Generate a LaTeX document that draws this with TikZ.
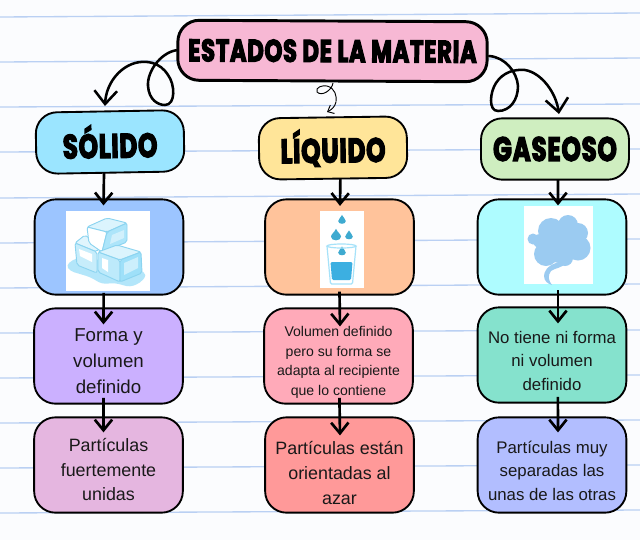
\documentclass[tikz,border=0pt]{standalone}
\usepackage{fontspec}
\usetikzlibrary{arrows.meta,calc}
\setmainfont{Liberation Sans}
\newfontfamily\headfont[BoldFeatures={FakeBold=3.6},FakeStretch=0.72,LetterSpace=2.5]{Poppins}
\newcommand{\down}[1]{\rule{0pt}{\dimexpr 10pt+2\dimexpr #1\relax\relax}}
\definecolor{ruled}{RGB}{186,208,243}
\definecolor{paper}{RGB}{251,252,254}
\definecolor{dropblue}{RGB}{62,170,208}
\definecolor{glassblue}{RGB}{60,175,225}
\definecolor{iceline}{RGB}{140,212,240}
\definecolor{cloudblue}{RGB}{155,203,241}
\tikzset{
 x=0.75pt,y=-0.75pt,
 box/.style={draw=black,line width=1.4pt,rounded corners=16pt,inner sep=0pt,align=center,text=black},
 hbox/.style={box,minimum width=111pt,minimum height=46pt},
 cbox/.style={box,minimum width=111.5pt,minimum height=71.5pt,text=black!90},
 heading/.style={font=\headfont\bfseries\fontsize{25.5pt}{26pt}\selectfont},
 tip/.style={-{Straight Barb[length=8pt,width=13pt,line width=2pt]}},
 link/.style={tip,line width=2pt},
 curl/.style={-{Straight Barb[length=10pt,width=17pt,line width=1.9pt]},line width=1.9pt,line cap=round},
 rule/.style={ruled,line width=1pt},
 photo/.style={fill=white,draw=none,inner sep=0pt},
 iceface/.style={draw=iceline,line width=0.7pt,rounded corners=1.5pt},
}
\begin{document}
\begin{tikzpicture}
\useasboundingbox (0,0) rectangle (640,540);
\fill[paper] (0,0) rectangle (640,540);
% ruled lines
\foreach \yy/\yr in {17/13,62/58,107/104,152/149,198/194,243/239,288/284,333/330,378/375,423/420,468/465,513/510}
  \draw[rule] (0,\yy) -- (640,\yr);

% title
\node[box,fill={rgb,255:red,247;green,184;blue,212},minimum width=232pt,minimum height=45pt,line width=2.2pt,rotate=-0.3,font=\headfont\bfseries\fontsize{23.5pt}{26pt}\selectfont] (title) at (332.5,51)
  {ESTADOS DE LA MATERIA};

% headers
\node[hbox,heading,fill={rgb,255:red,155;green,229;blue,255},rotate=1] (solido) at (110,142) {\raisebox{1pt}{SÓLIDO}};
\node[hbox,heading,fill={rgb,255:red,255;green,229;blue,153},rotate=0.8] (liquido) at (333,148) {\raisebox{1pt}{LÍQUIDO}};
\node[hbox,heading,fill={rgb,255:red,207;green,238;blue,192}] (gaseoso) at (555,149) {GASEOSO};

% row 2
\node[cbox,fill={rgb,255:red,156;green,197;blue,255}] (ice) at (109,247) {};
\node[cbox,fill={rgb,255:red,255;green,195;blue,155}] (water) at (339.5,247) {};
\node[cbox,fill={rgb,255:red,174;green,252;blue,255}] (gas) at (552,247) {};

% row 3
\node[cbox,fill={rgb,255:red,203;green,176;blue,255},font=\fontsize{14pt}{19.5pt}\selectfont] (forma) at (108.5,356) {\down{4pt}Forma y\\volumen\\definido};
\node[cbox,fill={rgb,255:red,255;green,170;blue,185},font=\fontsize{10.55pt}{14.8pt}\selectfont] (vol) at (338.5,356) {\down{3.6pt}Volumen definido\\pero su forma se\\adapta al recipiente\\que lo contiene};
\node[cbox,fill={rgb,255:red,133;green,226;blue,205},font=\fontsize{12.6pt}{17.6pt}\selectfont] (notiene) at (552,355) {\down{3.8pt}No tiene ni forma\\ni volumen\\definido};

% row 4
\node[cbox,fill={rgb,255:red,229;green,182;blue,224},font=\fontsize{13.4pt}{18.4pt}\selectfont] (part1) at (108.5,465) {\down{3.4pt}Partículas\\fuertemente\\unidas};
\node[cbox,fill={rgb,255:red,255;green,153;blue,153},font=\fontsize{13.4pt}{18.75pt}\selectfont] (part2) at (339.5,465) {\down{6pt}Partículas están\\orientadas al\\azar};
\node[cbox,fill={rgb,255:red,178;green,190;blue,255},font=\fontsize{12.6pt}{17.6pt}\selectfont] (part3) at (552,465) {\down{3.8pt}Partículas muy\\separadas las\\unas de las otras};

% ice picture
\node[photo,minimum width=63pt,minimum height=60pt] (icepic) at (108,251) {};
\fill[cyan!30!white,rounded corners=3pt] (66,265) -- (76,258) -- (130,262) -- (147,275) -- (140,283) -- (130,287) -- (115,283) -- (102,284) -- (90,277) -- (80,274) -- (70,271) -- cycle;
% left cube
\fill[iceface,fill=cyan!12!white] (75,243) -- (85,235) -- (100,246) -- (97,252) -- cycle;
\fill[iceface,fill=cyan!22!white] (75,243) -- (97,252) -- (97,273) -- (77,265) -- cycle;
\fill[white] (79,249) -- (92,254) -- (92,262) -- (80,256) -- cycle;
% top cube
\fill[iceface,fill=cyan!14!white] (87,227) -- (107,218) -- (127,223) -- (107,232) -- cycle;
\fill[iceface,fill=white] (87,227) -- (107,232) -- (102,252) -- (89,243) -- cycle;
\fill[iceface,fill=cyan!32!white] (107,232) -- (127,223) -- (127,242) -- (102,252) -- cycle;
\fill[cyan!18!white] (112,235) -- (124,230) -- (124,238) -- (110,244) -- cycle;
% right cube
\fill[iceface,fill=cyan!14!white] (98,252) -- (117,245) -- (141,252) -- (120,260) -- cycle;
\fill[iceface,fill=cyan!26!white] (98,252) -- (120,260) -- (120,282) -- (98,272) -- cycle;
\fill[iceface,fill=cyan!38!white] (120,260) -- (141,252) -- (142,273) -- (120,282) -- cycle;
\fill[cyan!20!white] (124,263) -- (138,257) -- (138,268) -- (124,275) -- cycle;
\fill[white] (102,258) -- (108,260) -- (108,272) -- (102,268) -- cycle;

% water picture
\node[photo,minimum width=33pt,minimum height=58pt] (waterpic) at (342,249.5) {};
\newcommand{\waterdrop}[3]{\fill[dropblue] (#1,#2-1.45*#3) .. controls (#1+0.3*#3,#2-0.7*#3) and (#1+#3,#2-0.4*#3) .. (#1+#3,#2+0.15*#3) .. controls (#1+#3,#2+1.1*#3) and (#1-#3,#2+1.1*#3) .. (#1-#3,#2+0.15*#3) .. controls (#1-#3,#2-0.4*#3) and (#1-0.3*#3,#2-0.7*#3) .. (#1,#2-1.45*#3) -- cycle;}
\waterdrop{342}{220.5}{3.8}
\waterdrop{336}{236}{5}
\waterdrop{349}{236}{3.8}
\waterdrop{342}{252}{3.8}
\draw[cyan!35!white,line width=0.9pt,rounded corners=1pt] (327,246) -- (330.5,284) -- (352.5,284) -- (356,246);
\draw[cyan!35!white,line width=0.9pt] (341.5,246) ellipse [x radius=14.5,y radius=2];
\fill[glassblue,rounded corners=1pt] (330.5,262) -- (352.5,262) -- (351,280) -- (332,280) -- cycle;

% cloud picture
\node[photo,minimum width=52pt,minimum height=58.5pt] (gaspic) at (558.5,245) {};
\begin{scope}[cloudblue]
 \fill (551,231) circle [radius=13];
 \fill (568,225) circle [radius=10];
 \fill (578,233) circle [radius=10];
 \fill (560,246) circle [radius=17];
 \fill (578,248) circle [radius=12.5];
 \fill (546,254) circle [radius=12];
 \fill (565,258) circle [radius=8];
 \fill (533,239) circle [radius=5.5];
 \fill (540,241) circle [radius=7];
 \fill (556,263) .. controls (547,266) and (544,272) .. (544,276) .. controls (544,281) and (548,284) .. (552,285) .. controls (549,281) and (547,276) .. (551,271) .. controls (555,268) and (562,268) .. (566,263) -- cycle;
\end{scope}

% connectors
\draw[link] ([xshift=-4.9pt,yshift=1pt]solido.south) -- ($(ice.north)+(-5.5,7)$);
\draw[link] ([xshift=5.2pt,yshift=1pt]liquido.south) -- ($(water.north)+(0.5,7.5)$);
\draw[link] ([xshift=2.3pt,yshift=1pt]gaseoso.south) -- ($(gas.north)+(6,7)$);
\draw[link] ([xshift=-4pt,yshift=2pt]ice.south) -- ($(forma.north)+(-5,17)$);
\draw[link] ([yshift=3pt]water.south) -- ($(vol.north)+(1.5,19)$);
\draw[link] ([xshift=4.5pt,yshift=4pt]gas.south) -- ($(notiene.north)+(6,17)$);
\draw[link] ([xshift=-3.8pt,yshift=5pt]forma.south) -- ($(part1.north)+(-5,16)$);
\draw[link] ([xshift=0.7pt,yshift=5pt]vol.south) -- ($(part2.north)+(0.5,19)$);
\draw[link] ([xshift=4.4pt,yshift=5pt]notiene.south) -- ($(part3.north)+(6,16)$);

% curls
\coordinate (endl) at (105,106);
\draw[curl] (title.west) .. controls (160,53) and (147,72) .. (148,86) .. controls (149,100) and (158,105) .. (165,105) .. controls (176,105) and (175,84) .. (168,75) .. controls (160,62) and (146,60) .. (135,63) .. controls (118,68) and (106,85) .. (endl);
\coordinate (endr) at (559,114);
\draw[curl] (489,56) .. controls (505,57) and (517,72) .. (518,86) .. controls (518,100) and (510,111) .. (498,111) .. controls (488,111) and (490,92) .. (496,83) .. controls (503,72) and (515,69) .. (525,70) .. controls (542,73) and (556,93) .. (endr);
\coordinate (ends) at (327,112);
\draw[line width=0.7pt,-{Straight Barb[length=4pt,width=7pt,line width=0.7pt]}] (333,83) .. controls (332,90) and (322,97) .. (317,92) .. controls (315,87) and (323,85) .. (327,86) .. controls (335,88) and (337,96) .. (336,102) .. controls (335,107) and (331,110) .. (ends);
\end{tikzpicture}
\end{document}
